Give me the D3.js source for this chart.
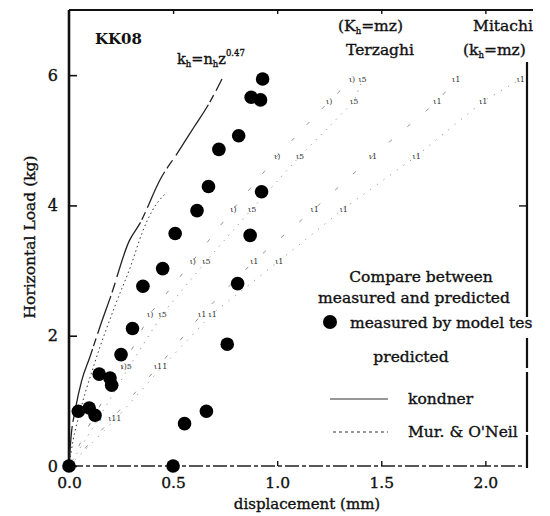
<!DOCTYPE html>
<html><head><meta charset="utf-8">
<script src="https://cdn.jsdelivr.net/npm/d3@7"></script>
<style>
body{margin:0;background:#fff;}
svg{display:block;}
svg text{font-family:"DejaVu Serif","Liberation Serif",serif;}
.ink{stroke:#111;stroke-width:0.35px;}
</style></head>
<body>
<svg id="chart" width="550" height="516"></svg>
<script>
// ---- data ----
const xTicks = [0, 0.5, 1.0, 1.5, 2.0];
const yTicks = [0, 2, 4, 6];
// measured by model test
const measuredX = [0.00,0.50,0.045,0.097,0.125,0.555,0.66,0.145,0.197,0.205,0.25,0.76,0.305,0.355,0.81,0.45,0.51,0.87,0.615,0.67,0.925,0.72,0.815,0.875,0.92,0.93];
const measuredY = [0.00,0.00,0.84,0.89,0.78,0.65,0.84,1.41,1.35,1.24,1.71,1.87,2.11,2.76,2.80,3.03,3.57,3.54,3.92,4.29,4.21,4.86,5.07,5.66,5.62,5.94];
// kondner prediction (kh = nh z^0.47)
const kondnerX = [0,0.01,0.03,0.06,0.10,0.15,0.20,0.29,0.34,0.44,0.52,0.60,0.67,0.735];
const kondnerY = [0,0.45,0.86,1.30,1.67,2.15,2.60,3.46,3.72,4.41,4.80,5.20,5.55,5.94];
// Mur. & O'Neil prediction
const murX = [0,0.02,0.05,0.12,0.22,0.30,0.35,0.40,0.47];
const murY = [0,0.40,0.80,1.55,2.45,3.10,3.57,3.92,4.20];
// predicted load levels
const predLoad = [0.74,1.53,2.34,3.15,3.95,4.76,5.60,5.94];
// Terzaghi (Kh = mz) predicted displacement, kondner / Mur.
const terzK = [0.115,0.26,0.39,0.595,0.79,1.00,1.25,1.36];
const terzM = [0.144,0.29,0.45,0.66,0.88,1.11,1.37,1.41];
// Mitachi (kh = mz) predicted displacement, kondner / Mur.
const mitK = [0.21,0.43,0.64,0.89,1.18,1.46,1.77,1.86];
const mitM = [0.23,0.45,0.69,1.01,1.32,1.67,1.99,2.17];

// ---- layout ----
const svg = d3.select("#chart");
const x = d3.scaleLinear().domain([0, 2.2]).range([69, 527]);
const y = d3.scaleLinear().domain([0, 7]).range([466, 10]);
const ink = "#111";

// frame
svg.append("line").attr("x1",x(0)).attr("x2",x(0)).attr("y1",y(7)).attr("y2",y(0))
  .attr("stroke",ink).attr("stroke-width",2.6);
svg.append("line").attr("x1",x(0)).attr("x2",533).attr("y1",y(7)).attr("y2",y(7))
  .attr("stroke",ink).attr("stroke-width",1.8);
svg.append("line").attr("x1",x(2.2)).attr("x2",x(2.2)).attr("y1",62).attr("y2",317)
  .attr("stroke",ink).attr("stroke-width",2.2);
svg.append("line").attr("x1",x(2.2)).attr("x2",x(2.2)).attr("y1",338).attr("y2",468)
  .attr("stroke",ink).attr("stroke-width",2.2).attr("stroke-dasharray","30,4,60,3,200");
svg.append("line").attr("x1",x(0)).attr("x2",x(2.2)-5).attr("y1",y(0)).attr("y2",y(0))
  .attr("stroke","#222").attr("stroke-width",1.5).attr("stroke-dasharray","14,3,4,3");

// axes
const yAxis = d3.axisLeft(y).tickValues(yTicks).tickSize(-8).tickPadding(11).tickFormat(d3.format("d"));
const gy = svg.append("g").attr("transform",`translate(${x(0)},0)`).call(yAxis);
gy.select(".domain").remove();
gy.selectAll("line").attr("stroke",ink).attr("stroke-width",1.6);
gy.selectAll("text").attr("class","ink").attr("font-size",16).attr("fill",ink);

const xAxis = d3.axisBottom(x).tickValues(xTicks).tickSize(-5).tickPadding(11).tickFormat(d3.format(".1f"));
const gx = svg.append("g").attr("transform",`translate(0,${y(0)})`).call(xAxis);
gx.select(".domain").remove();
gx.selectAll("line").attr("stroke",ink).attr("stroke-width",1.4);
gx.selectAll("text").attr("class","ink").attr("font-size",15.5).attr("fill",ink);

// top and right inner ticks
const gt = svg.append("g").attr("transform",`translate(0,${y(7)})`)
  .call(d3.axisTop(x).tickValues([0.5,1.0,1.5,2.0]).tickSize(-4).tickFormat(""));
gt.select(".domain").remove();
gt.selectAll("line").attr("stroke",ink).attr("stroke-width",1.4);
const gr = svg.append("g").attr("transform",`translate(${x(2.2)},0)`)
  .call(d3.axisRight(y).tickValues([4]).tickSize(-8).tickFormat(""));
gr.select(".domain").remove();
gr.selectAll("line").attr("stroke",ink).attr("stroke-width",1.4);

// axis titles
svg.append("text").attr("class","ink").attr("transform","translate(35,237) rotate(-90)")
  .attr("text-anchor","middle").attr("font-size",15.5).attr("fill",ink).text("Horizontal Load (kg)");
svg.append("text").attr("class","ink").attr("x",307).attr("y",509).attr("text-anchor","middle")
  .attr("font-size",15).attr("fill",ink).text("displacement (mm)");

// predicted lines (faint, fragmented as in the scan)
const line = d3.line().x(d=>x(d[0])).y(d=>y(d[1]));
function pts(xs, ys){ return xs.map((v,i)=>[v, ys[i]]); }
const predStyle = [
  {xs:terzK, dash:"4,18"},
  {xs:terzM, dash:"1.2,6"},
  {xs:mitK, dash:"4,20"},
  {xs:mitM, dash:"1.2,7"}
];
predStyle.forEach(s=>{
  svg.append("path").datum([[0,0]].concat(pts(s.xs, predLoad)))
    .attr("d",line).attr("fill","none").attr("stroke","#777")
    .attr("stroke-width",0.8).attr("stroke-dasharray",s.dash);
});
// kondner and Mur curves
const curve = d3.line().curve(d3.curveMonotoneX).x(d=>x(d[0])).y(d=>y(d[1]));
svg.append("path").datum(pts(kondnerX,kondnerY)).attr("d",curve)
  .attr("fill","none").attr("stroke","#222").attr("stroke-width",1.3).attr("stroke-dasharray","40,4,10,6,60,3,8,5");
svg.append("path").datum(pts(murX,murY)).attr("d",curve)
  .attr("fill","none").attr("stroke","#333").attr("stroke-width",1).attr("stroke-dasharray","1.5,3");

// predicted markers (small print marks); close pairs print as one blot
function marks(xa, xb, la, lb){
  const items = [];
  predLoad.forEach((ld,i)=>{
    if (x(xb[i]) - x(xa[i]) < 10) items.push({v:(xa[i]+xb[i])/2, ld, t:la+lb.slice(-1)});
    else { items.push({v:xa[i], ld, t:la}); items.push({v:xb[i], ld, t:lb}); }
  });
  svg.append("g").selectAll("text").data(items).join("text")
    .attr("x",d=>x(d.v)).attr("y",d=>y(d.ld)+3).attr("text-anchor","middle")
    .attr("font-size",8).attr("fill","#333").text(d=>d.t);
}
marks(terzK, terzM, "ι)", "ι5");
marks(mitK, mitM, "ι1", "ι1");

// measured points
svg.append("g").selectAll("circle").data(pts(measuredX,measuredY)).join("circle")
  .attr("cx",d=>x(d[0])).attr("cy",d=>y(d[1])).attr("r",6.8).attr("fill","#000");

// annotations
svg.append("text").attr("x",95).attr("y",44).attr("font-size",15).attr("font-weight","bold").attr("fill",ink).text("KK08");
const eq = svg.append("text").attr("class","ink").attr("x",177).attr("y",64).attr("font-size",14.5).attr("fill",ink);
eq.append("tspan").text("k");
eq.append("tspan").attr("font-size",8.5).attr("dy",3).text("h");
eq.append("tspan").attr("dy",-3).text("=n");
eq.append("tspan").attr("font-size",8.5).attr("dy",3).text("h");
eq.append("tspan").attr("dy",-3).text("z");
eq.append("tspan").attr("font-size",8.5).attr("dy",-8).text("0.47");

function kh(xp, yp, K){
  const t = svg.append("text").attr("class","ink").attr("x",xp).attr("y",yp).attr("font-size",15.5).attr("fill",ink);
  t.append("tspan").text("(" + K);
  t.append("tspan").attr("font-size",8.5).attr("dy",3).text("h");
  t.append("tspan").attr("dy",-3).text("=mz)");
  return t;
}
kh(338,31,"K");
svg.append("text").attr("class","ink").attr("x",380).attr("y",55).attr("text-anchor","middle").attr("font-size",15.5).attr("fill",ink).text("Terzaghi");
svg.append("text").attr("class","ink").attr("x",503).attr("y",31).attr("text-anchor","middle").attr("font-size",15.5).attr("fill",ink).text("Mitachi");
kh(463,55,"k");

// legend
const lg = svg.append("g").attr("font-size",15.5).attr("fill",ink);
lg.append("text").attr("class","ink").attr("x",421).attr("y",282).attr("text-anchor","middle").text("Compare between");
lg.append("text").attr("class","ink").attr("x",414).attr("y",303).attr("text-anchor","middle").text("measured and predicted");
lg.append("circle").attr("cx",330).attr("cy",322).attr("r",7).attr("fill","#000");
lg.append("text").attr("class","ink").attr("x",350).attr("y",328).text("measured by model tes");
lg.append("text").attr("class","ink").attr("x",411).attr("y",362).attr("text-anchor","middle").text("predicted");
lg.append("line").attr("x1",330).attr("x2",388).attr("y1",399).attr("y2",399).attr("stroke","#333").attr("stroke-width",1.2);
lg.append("text").attr("class","ink").attr("x",408).attr("y",404).text("kondner");
lg.append("line").attr("x1",333).attr("x2",388).attr("y1",432).attr("y2",432).attr("stroke","#333").attr("stroke-width",1).attr("stroke-dasharray","3,3");
lg.append("text").attr("class","ink").attr("x",408).attr("y",437).text("Mur. & O'Neil");
</script>
</body></html>
